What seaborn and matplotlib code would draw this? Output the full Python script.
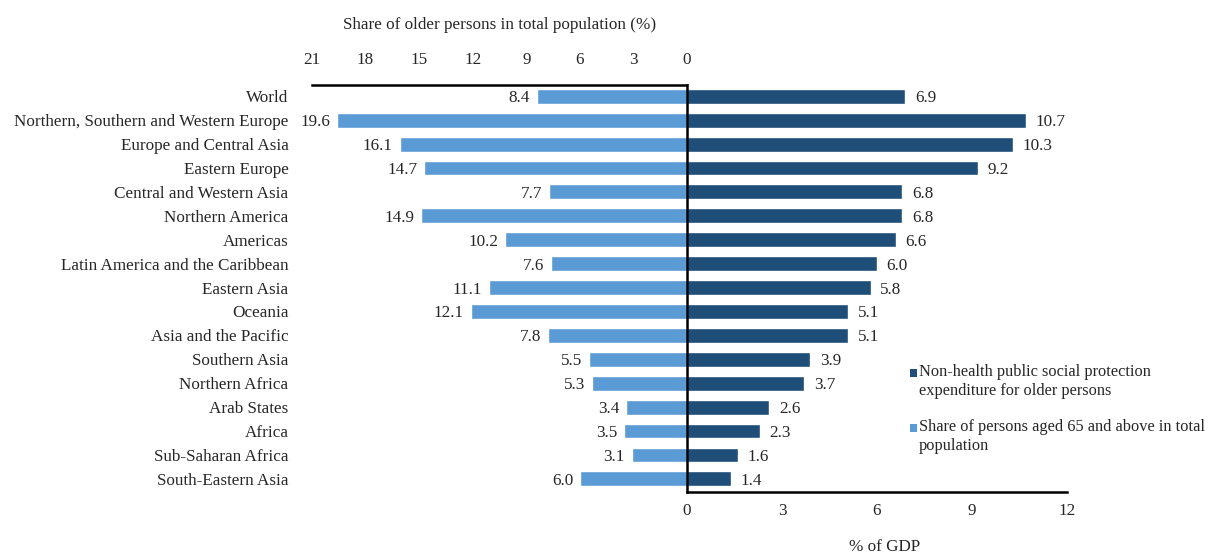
import matplotlib
matplotlib.use("Agg")
import matplotlib.pyplot as plt
import seaborn as sns
import pandas as pd
from matplotlib.patches import Rectangle

regions = [
    "World",
    "Northern, Southern and Western Europe",
    "Europe and Central Asia",
    "Eastern Europe",
    "Central and Western Asia",
    "Northern America",
    "Americas",
    "Latin America and the Caribbean",
    "Eastern Asia",
    "Oceania",
    "Asia and the Pacific",
    "Southern Asia",
    "Northern Africa",
    "Arab States",
    "Africa",
    "Sub-Saharan Africa",
    "South-Eastern Asia",
]
share_65_plus = [8.4, 19.6, 16.1, 14.7, 7.7, 14.9, 10.2, 7.6, 11.1, 12.1,
                 7.8, 5.5, 5.3, 3.4, 3.5, 3.1, 6.0]
expenditure_gdp = [6.9, 10.7, 10.3, 9.2, 6.8, 6.8, 6.6, 6.0, 5.8, 5.1,
                   5.1, 3.9, 3.7, 2.6, 2.3, 1.6, 1.4]
left_ticks = [0, 3, 6, 9, 12, 15, 18, 21]
right_ticks = [0, 3, 6, 9, 12]
legend_labels = [
    "Non-health public social protection\nexpenditure for older persons",
    "Share of persons aged 65 and above in total\npopulation",
]

light_blue = "#5B9BD5"
dark_blue = "#1F4E79"

df = pd.DataFrame({"region": regions, "share": share_65_plus,
                   "expenditure": expenditure_gdp})

sns.set_theme(style="white")
plt.rcParams["font.family"] = ["Liberation Serif", "DejaVu Serif"]
fs = 12.3

fig = plt.figure(figsize=(12.15, 5.55), dpi=100)
ax_l = fig.add_axes([0.2568, 0.1135, 0.3086, 0.7333])
ax_r = fig.add_axes([0.5654, 0.1135, 0.3128, 0.7333])

sns.barplot(data=df, x="share", y="region", orient="h", color=light_blue,
            saturation=1, width=0.62, ax=ax_l)
sns.barplot(data=df, x="expenditure", y="region", orient="h", color=dark_blue,
            saturation=1, width=0.62, ax=ax_r)

n = len(regions)
for ax in (ax_l, ax_r):
    ax.set_ylim(n - 0.45, -0.47)
    ax.set_ylabel("")
    ax.tick_params(length=0)
    for s in ax.spines.values():
        s.set_visible(False)

# Left panel: population share, reversed and labelled on top
ax_l.set_xlim(21, 0)
ax_l.xaxis.tick_top()
ax_l.xaxis.set_label_position("top")
ax_l.set_xticks(left_ticks)
ax_l.set_xticklabels([str(t) for t in left_ticks], fontsize=fs)
ax_l.tick_params(axis="x", pad=12)
ax_l.set_xlabel("Share of older persons in total population (%)",
                fontsize=fs, labelpad=17)
ax_l.set_yticks(range(n))
ax_l.set_yticklabels(regions, fontsize=fs)
ax_l.tick_params(axis="y", pad=17)
ax_l.spines["top"].set_visible(True)
ax_l.spines["top"].set_color("black")
ax_l.spines["top"].set_linewidth(1.8)

for i, v in enumerate(share_65_plus):
    ax_l.text(v + 0.38, i, f"{v:.1f}", ha="right", va="center_baseline",
              fontsize=fs)

# Right panel: expenditure as % of GDP
ax_r.set_xlim(0, 12)
ax_r.set_xticks(right_ticks)
ax_r.set_xticklabels([str(t) for t in right_ticks], fontsize=fs)
ax_r.tick_params(axis="x", pad=8)
ax_r.set_xlabel("% of GDP", fontsize=fs)
ax_r.xaxis.set_label_coords(0.52, -0.115)
ax_r.set_yticks([])
for s in ("bottom", "left"):
    ax_r.spines[s].set_visible(True)
    ax_r.spines[s].set_color("black")
    ax_r.spines[s].set_linewidth(1.8)
    ax_r.spines[s].set_zorder(5)
ax_r.spines["left"].set_clip_on(False)

for i, v in enumerate(expenditure_gdp):
    ax_r.text(v + 0.3, i, f"{v:.1f}", ha="left", va="center_baseline",
              fontsize=fs)

# Legend: small square markers aligned with the first line of each entry
W, H = fig.get_size_inches() * fig.dpi
legend_items = [(dark_blue, legend_labels[0], 373),
                (light_blue, legend_labels[1], 428)]
for color, label, y_px in legend_items:
    fig.patches.append(Rectangle((910 / W, 1 - (y_px + 4) / H), 7 / W, 8 / H,
                                 transform=fig.transFigure, facecolor=color,
                                 edgecolor="none"))
    fig.text(919 / W, 1 - (y_px - 9) / H, label, ha="left", va="top",
             fontsize=11.8, linespacing=1.22)

fig.savefig("out.png", dpi=100)
